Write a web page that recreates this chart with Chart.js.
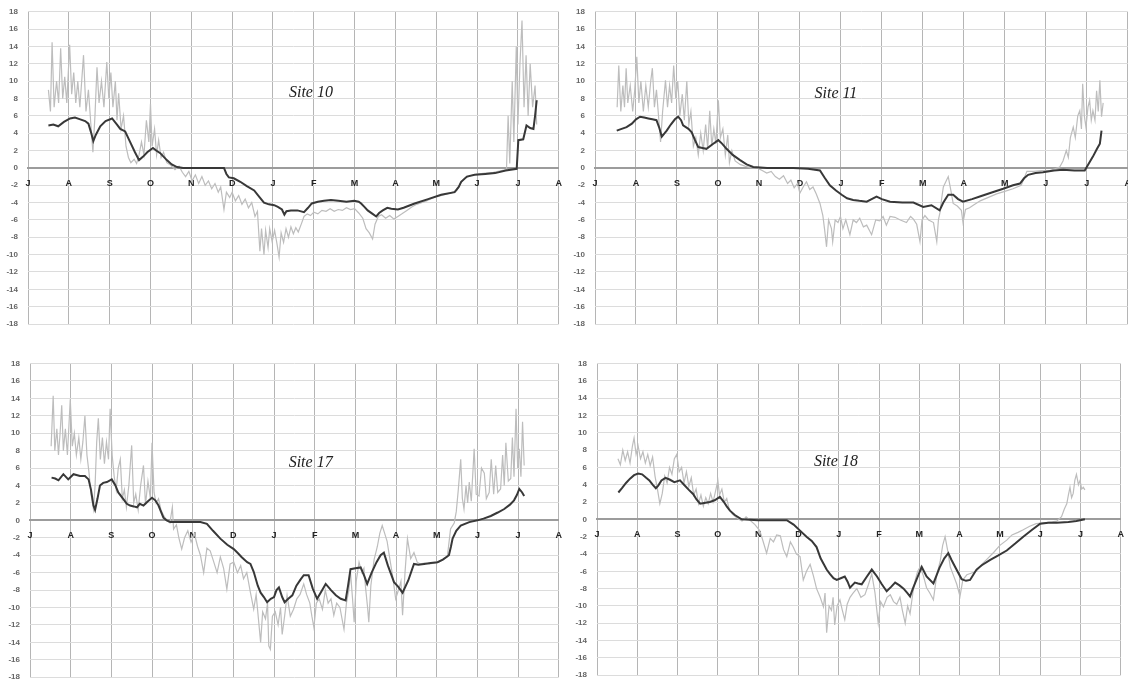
<!DOCTYPE html>
<html><head><meta charset="utf-8">
<script src="https://cdn.jsdelivr.net/npm/chart.js@4"></script>
<style>
body{margin:0;background:#fff;width:1128px;height:681px;overflow:hidden;position:relative;}
.p{position:absolute;}
</style></head><body>
<div class="p" style="left:0;top:-3px;"><canvas id="c1" width="572" height="342"></canvas></div>
<div class="p" style="left:564px;top:-3px;"><canvas id="c2" width="577" height="342"></canvas></div>
<div class="p" style="left:0;top:340px;"><canvas id="c3" width="572" height="352"></canvas></div>
<div class="p" style="left:564px;top:340px;"><canvas id="c4" width="570" height="350"></canvas></div>
<script>
const months = ['J','A','S','O','N','D','J','F','M','A','M','J','J','A'];
const yTicks = [18,16,14,12,10,8,6,4,2,0,-2,-4,-6,-8,-10,-12,-14,-16,-18];
const siteNames = ['Site 10','Site 11','Site 17','Site 18'];

// [month since July 1, temperature °C]
const site10Air = [[0.50,9],[0.55,6.5],[0.59,14.5],[0.64,7],[0.70,10],[0.75,7.5],[0.80,13.8],[0.85,8],[0.90,10.5],[0.95,7.5],[1.02,14.2],[1.07,8.5],[1.12,11],[1.17,7.5],[1.22,10],[1.27,7],[1.36,13],[1.42,6.5],[1.48,9],[1.54,5],[1.59,1.8],[1.64,6],[1.69,11.6],[1.74,7.5],[1.80,10],[1.86,7],[1.93,12.2],[1.98,8],[2.03,11],[2.08,7],[2.14,10],[2.18,5.5],[2.22,8.6],[2.28,4.5],[2.34,6],[2.40,2.5],[2.46,1.2],[2.52,0.6],[2.60,1.0],[2.66,0.5],[2.72,1.5],[2.78,3],[2.84,1.5],[2.90,5.5],[2.96,3],[3.00,7.4],[3.04,2.5],[3.10,4.5],[3.15,1.5],[3.20,3.2],[3.26,1.2],[3.32,1.8],[3.40,0.6],[3.50,0.3],[3.60,-0.2],[3.70,0.2],[3.78,-0.5],[3.86,-1.0],[3.94,-0.4],[4.02,-1.5],[4.10,-0.8],[4.18,-1.8],[4.26,-1.0],[4.34,-2.0],[4.42,-1.5],[4.50,-2.4],[4.58,-1.8],[4.66,-2.8],[4.72,-2.2],[4.80,-4.8],[4.86,-2.8],[4.94,-3.4],[5.00,-2.8],[5.08,-3.8],[5.16,-3.2],[5.24,-4.2],[5.32,-3.6],[5.40,-4.6],[5.48,-4.0],[5.56,-5.6],[5.62,-5.0],[5.68,-9.6],[5.72,-7.0],[5.78,-10.0],[5.82,-7.2],[5.88,-9.2],[5.92,-7.0],[5.98,-8.5],[6.04,-7.2],[6.10,-8.8],[6.15,-10.3],[6.20,-7.5],[6.26,-8.6],[6.32,-7.0],[6.38,-8.0],[6.44,-6.8],[6.50,-7.6],[6.56,-6.9],[6.62,-7.4],[6.70,-6.4],[6.76,-5.6],[6.84,-5.3],[6.92,-5.5],[7.00,-5.1],[7.10,-5.3],[7.20,-4.9],[7.30,-5.0],[7.40,-4.7],[7.50,-5.0],[7.60,-4.8],[7.70,-4.9],[7.80,-4.6],[7.90,-4.8],[8.00,-4.7],[8.10,-5.2],[8.20,-5.8],[8.28,-7.0],[8.36,-7.5],[8.44,-8.2],[8.50,-6.5],[8.58,-5.6],[8.66,-5.4],[8.76,-5.8],[8.86,-5.5],[8.96,-5.9],[9.06,-5.6],[9.16,-5.3],[9.28,-4.9],[9.40,-4.5],[9.52,-4.2],[9.64,-4.0],[9.76,-3.8],[9.90,-3.5],[10.04,-3.3],[10.20,-3.1],[10.36,-2.9],[10.50,-2.6],[10.60,-1.7],[10.70,-1.2],[10.84,-0.9],[11.00,-0.7],[11.20,-0.6],[11.40,-0.5],[11.60,-0.3],[11.72,-0.2],[11.76,6],[11.80,0.5],[11.86,10],[11.90,3],[11.96,14],[12.00,5],[12.05,12],[12.10,17],[12.15,7],[12.20,13],[12.25,6],[12.30,12],[12.36,7],[12.42,9.5],[12.46,5]];
const site10Ground = [[0.50,4.9],[0.62,5.0],[0.74,4.8],[0.88,5.3],[1.03,5.7],[1.15,5.8],[1.28,5.6],[1.40,5.4],[1.48,5.1],[1.55,4.0],[1.60,3.1],[1.66,3.8],[1.77,4.8],[1.90,5.4],[2.06,5.7],[2.18,5.0],[2.26,4.5],[2.38,4.2],[2.50,3.0],[2.62,1.8],[2.72,0.9],[2.82,1.3],[2.92,1.8],[3.06,2.3],[3.14,2.0],[3.24,1.7],[3.40,0.9],[3.52,0.4],[3.65,0.1],[3.80,0.0],[4.06,0],[4.50,0],[4.80,0],[4.86,-0.7],[4.92,-1.1],[5.04,-1.2],[5.20,-1.6],[5.36,-2.1],[5.54,-2.6],[5.66,-3.3],[5.78,-4.0],[5.90,-4.2],[6.03,-4.3],[6.12,-4.5],[6.22,-4.8],[6.28,-5.4],[6.33,-5.0],[6.44,-4.9],[6.60,-4.9],[6.76,-5.1],[6.86,-4.6],[6.95,-4.1],[7.10,-3.9],[7.25,-3.8],[7.42,-3.7],[7.60,-3.8],[7.80,-3.9],[7.99,-3.8],[8.10,-3.9],[8.16,-4.1],[8.24,-4.5],[8.32,-4.9],[8.44,-5.3],[8.53,-5.6],[8.60,-5.2],[8.69,-4.9],[8.80,-4.6],[8.90,-4.7],[9.06,-4.8],[9.20,-4.6],[9.47,-4.1],[9.80,-3.6],[10.12,-3.1],[10.45,-2.8],[10.55,-2.2],[10.61,-1.6],[10.75,-1.0],[10.94,-0.8],[11.20,-0.7],[11.44,-0.6],[11.70,-0.3],[11.97,-0.1],[12.01,3.2],[12.13,3.3],[12.21,4.9],[12.30,4.6],[12.38,4.5],[12.42,6.0],[12.46,7.8]];

const site11Air = [[0.54,7],[0.58,11.8],[0.63,6.5],[0.68,9.5],[0.72,7],[0.76,11.5],[0.80,7.5],[0.86,9.5],[0.92,6.5],[0.97,9],[1.02,12.8],[1.07,7.5],[1.12,10],[1.18,6.5],[1.24,9.5],[1.30,7],[1.36,10],[1.40,11.5],[1.45,7],[1.50,9],[1.55,6],[1.60,3.0],[1.65,6.5],[1.72,10.1],[1.77,7],[1.82,9.5],[1.87,7.5],[1.92,11.8],[1.97,8],[2.02,10],[2.07,6],[2.13,8.5],[2.18,5.5],[2.24,10],[2.29,5],[2.34,6.5],[2.40,2.5],[2.46,3.5],[2.52,1.5],[2.58,4],[2.64,2],[2.70,5],[2.75,2.2],[2.80,6.6],[2.85,2.5],[2.90,4.5],[2.95,2.8],[3.01,7.8],[3.06,3.5],[3.12,4.5],[3.18,1.5],[3.24,3.8],[3.28,0.6],[3.34,2],[3.42,0.8],[3.54,0.4],[3.66,0.2],[3.80,0.0],[3.95,0.0],[4.08,-0.3],[4.19,-0.6],[4.30,-0.4],[4.40,-1.0],[4.50,-1.3],[4.60,-0.9],[4.70,-1.8],[4.78,-1.4],[4.86,-2.3],[4.94,-1.8],[5.00,-2.9],[5.08,-2.2],[5.16,-1.6],[5.24,-2.5],[5.32,-2.2],[5.40,-3.0],[5.49,-4.1],[5.56,-5.5],[5.60,-7],[5.65,-9.1],[5.70,-6.0],[5.77,-7.0],[5.80,-8.5],[5.86,-6.0],[5.93,-6.3],[5.99,-5.6],[6.05,-7.0],[6.12,-6.0],[6.22,-7.7],[6.30,-6.0],[6.38,-6.3],[6.46,-5.8],[6.55,-6.8],[6.63,-6.6],[6.75,-7.7],[6.85,-6.0],[6.95,-6.1],[7.03,-5.6],[7.11,-6.6],[7.20,-5.6],[7.32,-5.7],[7.45,-6.0],[7.60,-6.3],[7.70,-5.6],[7.77,-5.9],[7.85,-6.5],[7.93,-8.5],[7.98,-6.0],[8.05,-5.5],[8.14,-6.0],[8.26,-6.3],[8.34,-8.5],[8.38,-6.0],[8.42,-5.1],[8.46,-3.5],[8.50,-2.2],[8.56,-1.6],[8.62,-1.0],[8.68,-2.5],[8.74,-4.1],[8.84,-4.4],[8.94,-4.9],[8.98,-6.3],[9.04,-4.8],[9.14,-4.6],[9.23,-4.3],[9.40,-3.8],[9.60,-3.4],[9.80,-3.0],[10.00,-2.7],[10.20,-2.4],[10.40,-2.0],[10.54,-0.4],[10.70,-0.4],[10.90,-0.3],[11.10,-0.3],[11.34,0.1],[11.42,0.8],[11.50,2.0],[11.55,1.2],[11.60,3.5],[11.67,4.7],[11.72,3.5],[11.78,6.0],[11.83,6.6],[11.87,4.5],[11.90,9.7],[11.94,6],[11.98,4.7],[12.03,7],[12.07,7.8],[12.11,5.5],[12.15,6.6],[12.20,5.5],[12.24,8.9],[12.28,6.5],[12.32,10.1],[12.36,5.9],[12.40,7.5]];
const site11Ground = [[0.53,4.3],[0.65,4.5],[0.77,4.7],[0.90,5.1],[1.00,5.6],[1.10,5.9],[1.20,5.8],[1.30,5.7],[1.40,5.6],[1.50,5.5],[1.57,4.6],[1.63,3.6],[1.70,4.0],[1.75,4.3],[1.85,5.0],[1.95,5.6],[2.03,5.9],[2.10,5.5],[2.15,4.9],[2.28,4.5],[2.36,4.1],[2.44,3.2],[2.52,2.4],[2.62,2.3],[2.72,2.2],[2.86,2.7],[3.01,3.2],[3.10,2.8],[3.21,2.2],[3.36,1.5],[3.54,0.9],[3.70,0.4],[3.86,0.1],[4.20,0],[4.84,0],[5.20,-0.1],[5.49,-0.3],[5.60,-1.1],[5.73,-2.0],[5.88,-2.6],[6.02,-3.1],[6.15,-3.5],[6.30,-3.7],[6.45,-3.8],[6.63,-3.9],[6.75,-3.6],[6.87,-3.3],[7.00,-3.6],[7.20,-3.9],[7.50,-4.0],[7.77,-4.0],[8.01,-4.5],[8.21,-4.3],[8.41,-4.9],[8.50,-4.0],[8.62,-3.1],[8.74,-3.1],[8.86,-3.6],[8.98,-3.9],[9.20,-3.6],[9.39,-3.3],[9.70,-2.8],[9.96,-2.4],[10.20,-2.0],[10.37,-1.8],[10.47,-1.2],[10.57,-0.8],[10.75,-0.6],[10.93,-0.5],[11.20,-0.3],[11.42,-0.2],[11.70,-0.3],[11.95,-0.3],[12.05,0.5],[12.15,1.3],[12.25,2.2],[12.32,2.8],[12.36,4.3]];

const site17Air = [[0.52,8.5],[0.57,14.3],[0.61,8],[0.66,10.5],[0.70,7.5],[0.74,10],[0.78,13.2],[0.82,8],[0.87,10.5],[0.92,7.5],[0.99,13.9],[1.04,8.5],[1.09,10],[1.14,7.5],[1.20,9.5],[1.25,7],[1.30,9],[1.35,12],[1.40,7.5],[1.45,5.5],[1.50,3],[1.56,1.3],[1.60,4],[1.64,9],[1.68,11.7],[1.73,7],[1.78,9.5],[1.83,6.5],[1.88,9],[1.93,7],[1.97,12.8],[2.02,7.5],[2.07,5],[2.12,3.5],[2.17,6],[2.22,7],[2.27,2.5],[2.32,3.5],[2.37,1.5],[2.43,4],[2.50,8.6],[2.55,2],[2.60,3],[2.66,1.2],[2.72,4],[2.79,6.3],[2.84,1.8],[2.90,4.5],[2.96,2.5],[3.00,8.9],[3.05,3.2],[3.10,2],[3.16,2.5],[3.22,1.2],[3.28,0.6],[3.36,0.0],[3.44,-0.3],[3.50,1.5],[3.53,-1.0],[3.60,-0.5],[3.66,-2.0],[3.73,-3.3],[3.80,-2.0],[3.88,-1.2],[3.96,-2.5],[4.04,-1.5],[4.12,-3.0],[4.19,-4.0],[4.27,-6.0],[4.35,-3.2],[4.43,-3.5],[4.50,-4.5],[4.60,-6.0],[4.68,-4.2],[4.76,-5.5],[4.84,-7.9],[4.92,-5.0],[5.01,-4.8],[5.10,-6.0],[5.18,-5.2],[5.25,-6.7],[5.33,-6.0],[5.42,-8.3],[5.50,-10.2],[5.56,-8.5],[5.62,-11.5],[5.67,-14.0],[5.72,-10.5],[5.79,-11.3],[5.84,-9.5],[5.87,-14.4],[5.91,-14.8],[5.96,-11.0],[6.03,-10.5],[6.10,-12.0],[6.16,-10.0],[6.20,-13.1],[6.26,-11.0],[6.32,-8.6],[6.40,-11.0],[6.48,-10.2],[6.56,-9.0],[6.64,-8.5],[6.73,-7.3],[6.80,-8.5],[6.88,-9.5],[6.93,-11.0],[6.98,-12.3],[7.04,-9.5],[7.11,-9.0],[7.19,-10.2],[7.26,-8.0],[7.33,-9.5],[7.40,-9.0],[7.47,-10.9],[7.54,-9.5],[7.62,-10.0],[7.68,-11.5],[7.72,-12.5],[7.78,-9.5],[7.84,-8.0],[7.88,-6.0],[7.93,-9.0],[7.97,-11.7],[8.02,-7.0],[8.09,-4.8],[8.16,-6.0],[8.21,-5.5],[8.25,-7.7],[8.30,-10.0],[8.33,-11.7],[8.38,-7.5],[8.46,-4.5],[8.54,-3.0],[8.60,-1.5],[8.66,-0.6],[8.72,-1.5],[8.78,-2.4],[8.85,-4.5],[8.92,-6.5],[8.99,-9.0],[9.06,-8.0],[9.12,-7.0],[9.16,-10.9],[9.22,-6.0],[9.28,-2.1],[9.36,-4.4],[9.44,-3.7],[9.52,-4.8],[9.60,-5.0],[9.70,-4.9],[9.82,-5.0],[9.94,-4.9],[10.04,-4.8],[10.16,-4.5],[10.26,-4.2],[10.34,-1.0],[10.43,-0.3],[10.48,1.0],[10.53,3.5],[10.59,7.0],[10.63,2.5],[10.67,1.3],[10.72,4.0],[10.76,2.0],[10.80,4.4],[10.85,2.2],[10.92,8.2],[10.97,3.0],[11.04,2.8],[11.10,6.0],[11.17,5.4],[11.22,2.5],[11.29,3.2],[11.34,7.0],[11.40,3.0],[11.45,6.3],[11.50,3.2],[11.57,3.6],[11.62,7.5],[11.66,4.0],[11.70,8.9],[11.76,4.5],[11.82,4.8],[11.86,9.5],[11.90,5.0],[11.95,12.8],[11.99,6.0],[12.03,8.2],[12.07,5.0],[12.11,11.3],[12.15,6.3]];
const site17Ground = [[0.53,4.9],[0.62,4.8],[0.70,4.6],[0.82,5.3],[0.94,4.7],[1.07,5.3],[1.23,5.1],[1.35,5.1],[1.44,4.7],[1.50,3.5],[1.56,1.7],[1.60,1.2],[1.66,2.5],[1.72,4.0],[1.80,4.3],[1.89,4.4],[2.01,4.7],[2.10,4.0],[2.17,3.2],[2.30,2.4],[2.38,1.9],[2.46,1.7],[2.55,1.6],[2.63,1.5],[2.70,1.9],[2.79,1.7],[2.90,2.2],[3.00,2.6],[3.08,2.3],[3.16,1.7],[3.22,1.0],[3.28,0.3],[3.36,0.0],[3.45,-0.2],[3.70,-0.2],[4.00,-0.2],[4.19,-0.2],[4.35,-0.4],[4.50,-1.2],[4.68,-2.1],[4.85,-2.8],[5.01,-3.3],[5.12,-3.8],[5.20,-4.2],[5.34,-4.8],[5.42,-5.0],[5.50,-5.9],[5.60,-7.5],[5.67,-8.3],[5.75,-8.8],[5.83,-9.4],[5.92,-9.0],[6.00,-8.8],[6.06,-8.0],[6.12,-7.7],[6.20,-8.8],[6.26,-9.4],[6.35,-9.0],[6.45,-8.6],[6.55,-7.5],[6.65,-6.8],[6.73,-6.3],[6.85,-6.3],[6.95,-7.8],[7.06,-9.0],[7.16,-8.2],[7.27,-7.3],[7.40,-8.0],[7.52,-8.6],[7.64,-9.0],[7.76,-9.2],[7.82,-7.5],[7.88,-5.6],[8.00,-5.5],[8.13,-5.4],[8.22,-6.4],[8.29,-7.3],[8.40,-6.0],[8.52,-4.8],[8.62,-4.0],[8.70,-3.7],[8.80,-5.2],[8.95,-7.1],[9.05,-7.6],[9.16,-8.3],[9.30,-6.9],[9.44,-5.0],[9.55,-5.1],[9.69,-5.0],[9.85,-4.9],[10.02,-4.8],[10.15,-4.5],[10.30,-4.0],[10.35,-3.0],[10.39,-2.1],[10.48,-1.2],[10.59,-0.6],[10.80,-0.2],[11.00,0.0],[11.15,0.2],[11.33,0.5],[11.50,0.9],[11.66,1.3],[11.80,1.8],[11.90,2.3],[11.97,2.9],[12.03,3.6],[12.10,3.2],[12.15,2.8]];

const site18Air = [[0.52,7.0],[0.58,6.3],[0.64,8.0],[0.70,6.8],[0.76,7.8],[0.82,6.5],[0.88,8.5],[0.92,9.4],[0.97,7.5],[1.02,8.5],[1.08,7.0],[1.14,7.8],[1.20,6.5],[1.26,7.5],[1.32,6.2],[1.38,7.2],[1.44,5.0],[1.50,3.5],[1.56,1.8],[1.62,3.0],[1.68,5.0],[1.74,4.2],[1.80,6.0],[1.86,5.2],[1.92,7.0],[1.98,7.5],[2.04,5.5],[2.10,6.0],[2.16,4.2],[2.22,5.5],[2.28,3.8],[2.34,4.8],[2.40,2.8],[2.46,3.5],[2.52,1.8],[2.58,2.8],[2.64,1.5],[2.70,2.5],[2.76,1.8],[2.82,3.0],[2.88,2.0],[2.94,3.2],[3.00,4.5],[3.04,2.8],[3.10,3.5],[3.16,2.0],[3.22,2.4],[3.28,1.2],[3.36,0.6],[3.44,0.3],[3.52,0.0],[3.60,-0.2],[3.70,0.3],[3.80,-0.1],[3.92,-0.6],[4.04,-1.3],[4.12,-2.5],[4.21,-3.9],[4.30,-2.2],[4.38,-2.6],[4.46,-1.8],[4.55,-1.9],[4.63,-3.5],[4.71,-4.3],[4.80,-2.6],[4.87,-3.2],[4.95,-4.0],[5.04,-4.3],[5.12,-7.0],[5.20,-6.0],[5.29,-5.2],[5.37,-6.5],[5.45,-8.0],[5.54,-9.0],[5.62,-10.1],[5.66,-8.5],[5.70,-13.1],[5.76,-10.0],[5.82,-10.5],[5.86,-9.0],[5.90,-12.2],[5.96,-10.0],[6.03,-9.3],[6.09,-10.5],[6.15,-11.6],[6.21,-9.8],[6.28,-9.0],[6.36,-8.5],[6.45,-8.0],[6.55,-9.0],[6.65,-8.7],[6.74,-7.5],[6.82,-6.3],[6.90,-8.5],[6.98,-12.0],[7.04,-9.5],[7.11,-10.1],[7.20,-9.0],[7.28,-8.7],[7.36,-9.5],[7.44,-9.8],[7.52,-9.0],[7.58,-10.5],[7.65,-12.0],[7.71,-10.0],[7.77,-10.9],[7.84,-8.5],[7.90,-7.0],[7.96,-6.0],[8.02,-5.5],[8.10,-6.5],[8.18,-7.9],[8.26,-8.5],[8.35,-9.3],[8.43,-6.5],[8.52,-4.8],[8.58,-3.0],[8.64,-2.0],[8.70,-3.5],[8.77,-5.5],[8.85,-6.5],[8.93,-7.5],[9.01,-8.9],[9.08,-7.0],[9.18,-6.4],[9.30,-6.2],[9.42,-6.0],[9.55,-5.2],[9.70,-4.5],[9.85,-3.8],[10.00,-3.0],[10.17,-2.4],[10.30,-1.8],[10.45,-1.5],[10.58,-1.2],[10.74,-0.8],[10.90,-0.5],[11.10,-0.4],[11.30,-0.3],[11.41,-0.2],[11.53,0.3],[11.60,1.2],[11.66,1.8],[11.70,2.8],[11.74,3.7],[11.78,2.5],[11.82,3.0],[11.86,4.5],[11.90,5.2],[11.95,4.0],[11.99,4.5],[12.03,3.5],[12.07,3.7],[12.11,3.4]];
const site18Ground = [[0.53,3.1],[0.62,3.6],[0.72,4.2],[0.82,4.7],[0.92,5.1],[1.02,5.3],[1.12,5.2],[1.22,4.8],[1.30,4.5],[1.38,4.0],[1.46,3.6],[1.52,3.9],[1.60,4.5],[1.70,4.8],[1.80,4.6],[1.92,4.3],[2.06,4.5],[2.16,4.0],[2.28,3.4],[2.39,2.9],[2.47,2.3],[2.56,1.8],[2.66,1.9],[2.80,2.0],[2.92,2.2],[3.05,2.6],[3.15,2.0],[3.22,1.5],[3.30,1.0],[3.42,0.5],[3.59,0.0],[4.00,-0.1],[4.40,-0.1],[4.71,-0.1],[4.88,-0.6],[5.04,-1.3],[5.20,-2.0],[5.33,-2.5],[5.45,-3.2],[5.55,-4.5],[5.62,-5.1],[5.70,-5.8],[5.78,-6.3],[5.87,-6.8],[5.95,-7.0],[6.05,-6.8],[6.15,-6.6],[6.22,-7.2],[6.28,-7.9],[6.34,-7.6],[6.40,-7.3],[6.48,-7.4],[6.57,-7.5],[6.70,-6.6],[6.82,-5.8],[6.95,-6.6],[7.07,-7.5],[7.19,-8.3],[7.30,-7.8],[7.40,-7.3],[7.50,-7.6],[7.61,-8.0],[7.70,-8.5],[7.77,-8.9],[7.84,-8.0],[7.90,-7.3],[8.06,-5.5],[8.18,-6.6],[8.35,-7.4],[8.50,-5.6],[8.62,-4.5],[8.72,-3.9],[8.80,-4.7],[8.89,-5.5],[9.05,-6.9],[9.16,-7.1],[9.26,-7.0],[9.34,-6.4],[9.42,-5.8],[9.55,-5.3],[9.75,-4.7],[9.95,-4.2],[10.17,-3.6],[10.38,-2.8],[10.58,-2.0],[10.80,-1.2],[11.00,-0.5],[11.20,-0.4],[11.41,-0.4],[11.70,-0.3],[11.90,-0.2],[12.11,0.0]];

const titlePlugin = {
  id: 'siteTitle',
  afterDatasetsDraw(chart, args, opts) {
    const ctx = chart.ctx;
    const x = chart.scales.x.getPixelForValue(opts.at[0]);
    const y = chart.scales.y.getPixelForValue(opts.at[1]);
    ctx.save();
    ctx.font = 'italic 16px "Liberation Serif", "DejaVu Serif", serif';
    ctx.fillStyle = '#222';
    ctx.textAlign = 'center';
    ctx.textBaseline = 'middle';
    ctx.fillText(opts.text, x, y);
    ctx.restore();
  }
};

function makeChart(id, air, ground, name, at, yWidth, pad) {
  new Chart(document.getElementById(id), {
    type: 'line',
    data: {
      datasets: [
        { data: ground, borderColor: '#383838', borderWidth: 2, order: 0 },
        { data: air, borderColor: '#bdbdbd', borderWidth: 1.2, order: 1 }
      ]
    },
    plugins: [titlePlugin],
    options: {
      responsive: false,
      animation: false,
      events: [],
      layout: { autoPadding: false, padding: pad },
      elements: { point: { radius: 0 }, line: { tension: 0 } },
      plugins: { legend: { display: false }, tooltip: { enabled: false }, siteTitle: { text: name, at: at } },
      scales: {
        x: {
          type: 'linear', min: 0, max: 13,
          position: { y: 0 },
          afterBuildTicks: s => { s.ticks = months.map((m, i) => ({ value: i })); },
          ticks: {
            autoSkip: false, maxRotation: 0, padding: 10,
            callback: v => months[v],
            font: { family: 'Arial, "Liberation Sans", sans-serif', size: 9, weight: 'bold' },
            color: '#222'
          },
          grid: { color: '#b5b5b5', lineWidth: 1, drawTicks: false },
          border: { color: '#9c9c9c', width: 2 }
        },
        y: {
          min: -18, max: 18,
          afterBuildTicks: s => { s.ticks = yTicks.map(v => ({ value: v })); },
          afterFit: s => { s.width = yWidth; },
          ticks: {
            padding: 10,
            font: { family: 'Arial, "Liberation Sans", sans-serif', size: 8, weight: 'bold' },
            color: '#666'
          },
          grid: { color: '#dcdcdc', lineWidth: 1, drawTicks: false },
          border: { display: false }
        }
      }
    }
  });
}

makeChart('c1', site10Air, site10Ground, siteNames[0], [6.93, 8.7], 28, { top: 14.5, right: 6, bottom: 15, left: 0 });
makeChart('c2', site11Air, site11Ground, siteNames[1], [5.88, 8.6], 31, { top: 14.5, right: 6, bottom: 15, left: 0 });
makeChart('c3', site17Air, site17Ground, siteNames[2], [6.9, 6.65], 30, { top: 23.5, right: 6, bottom: 4, left: 0 });
makeChart('c4', site18Air, site18Ground, siteNames[3], [5.93, 6.6], 33, { top: 23.5, right: 6, bottom: 4, left: 0 });
</script>
</body></html>
